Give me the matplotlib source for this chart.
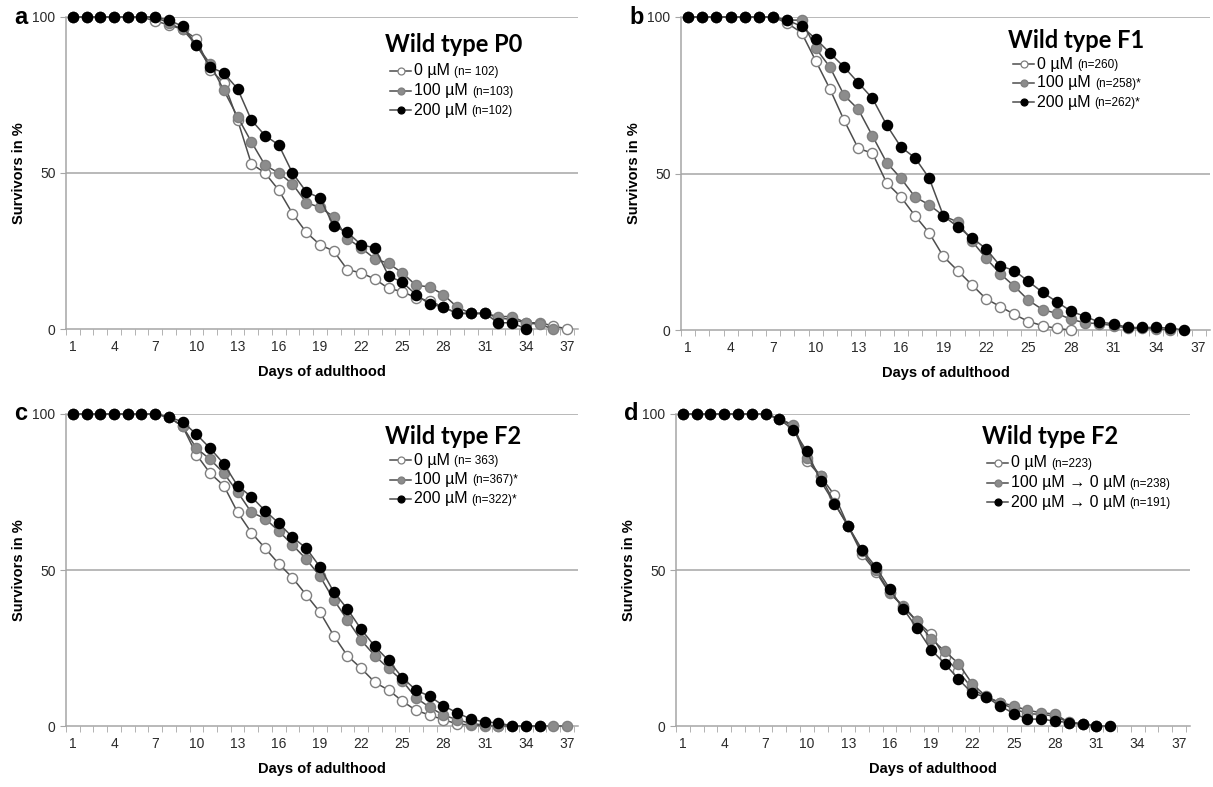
import matplotlib
matplotlib.use("Agg")
import matplotlib.pyplot as plt

W, H = 1213, 787

# survival (%) per day of adulthood, starting at day 1
p0_0 = [100, 100, 100, 100, 100, 100, 98.7, 97.5, 96, 93, 83, 79, 67, 53, 50, 44.5, 37, 31, 27, 25,
        19, 18, 16, 13, 12, 10, 9, 7, 5, 5, 5, 3.6, 3, 2, 2, 1, 0]
p0_100 = [100, 100, 100, 100, 100, 100, 100, 98, 96, 91, 85, 76.5, 68, 60, 52.5, 50, 46.5, 40.5, 39, 36,
          29, 26, 22.5, 21, 18, 14, 13.5, 11, 7, 5, 5, 4, 4, 2, 1.5, 0]
p0_200 = [100, 100, 100, 100, 100, 100, 100, 99, 97, 91, 84, 82, 77, 67, 62, 59, 50, 44, 42, 33,
          31, 27, 26, 17, 15, 11, 8, 7, 5, 5, 5, 2, 2, 0]

f1_0 = [100, 100, 100, 100, 100, 100, 100, 98, 95, 86, 77, 67, 58, 56.5, 47, 42.5, 36.5, 31, 23.5, 19,
        14.5, 10, 7.5, 5, 2.7, 1.4, 0.5, 0]
f1_100 = [100, 100, 100, 100, 100, 100, 100, 99, 99, 90, 84, 75, 70.5, 62, 53.5, 48.5, 42.5, 40, 36.5, 34.5,
          28.5, 23, 18, 14, 9.5, 6.5, 5.3, 3.4, 2.3, 2, 1.4, 0.6, 0.5, 0.4, 0]
f1_200 = [100, 100, 100, 100, 100, 100, 100, 99, 97, 93, 88.5, 84, 79, 74, 65.5, 58.5, 55, 48.5, 36.5, 33,
          29.5, 26, 20.5, 19, 15.5, 12, 9, 6, 4.3, 2.5, 2, 0.8, 0.8, 0.8, 0.6, 0]

f2_0 = [100, 100, 100, 100, 100, 100, 100, 99, 96, 87, 81, 77, 68.5, 62, 57, 52, 47.5, 42, 36.5, 29,
        22.5, 18.5, 14, 11.5, 8, 5, 3.5, 2, 0.7, 0.3, 0, 0]
f2_100 = [100, 100, 100, 100, 100, 100, 100, 99, 96, 89, 85.5, 81, 75, 68.5, 66.5, 62.5, 58, 53.5, 48, 40.5,
          34, 27.5, 22.5, 18.5, 14.5, 9, 6, 3.5, 2, 0.8, 0.3, 0, 0, 0, 0, 0, 0]
f2_200 = [100, 100, 100, 100, 100, 100, 100, 99, 97.5, 93.5, 89, 84, 77, 73.5, 69, 65, 60.5, 57, 51, 43,
          37.5, 31, 25.5, 21, 15.5, 11.5, 9.5, 6.5, 4.2, 2.2, 1.3, 1, 0, 0, 0]

r_0 = [100, 100, 100, 100, 100, 100, 100, 98.5, 96, 85, 80, 74, 64, 55, 49.5, 42.5, 38.5, 33.5, 29.5, 22,
       17.5, 12, 9.3, 7.5, 5.5, 4, 3.7, 3.2, 1.1, 0.6, 0]
r_100 = [100, 100, 100, 100, 100, 100, 100, 98.5, 96.5, 86, 80, 71.5, 64, 56, 50, 43, 38, 33.5, 28, 24,
         20, 13.5, 9.5, 7.5, 6.5, 5, 4.3, 3.8, 1.2, 0.8, 0]
r_200 = [100, 100, 100, 100, 100, 100, 100, 98.3, 95, 88, 78.5, 71.3, 64, 56.5, 51, 44, 37.5, 31.3, 24.5, 20,
         15, 10.5, 9.3, 6.5, 4, 2.2, 2.2, 1.6, 1.1, 0.5, 0, 0]

day_ticks = list(range(1, 38, 3))
y_ticks = [0, 50, 100]

panels = [
    dict(letter="a", title="Wild type P0", series=[p0_0, p0_100, p0_200],
         labels=["0 µM", "100 µM", "200 µM"], ns=["(n= 102)", "(n=103)", "(n=102)"],
         box=(66, 17, 578, 329), leg=(385, 44, 71, 19.5)),
    dict(letter="b", title="Wild type F1", series=[f1_0, f1_100, f1_200],
         labels=["0 µM", "100 µM", "200 µM"], ns=["(n=260)", "(n=258)*", "(n=262)*"],
         box=(681, 17, 1210, 330), leg=(1008, 40, 64, 19)),
    dict(letter="c", title="Wild type F2", series=[f2_0, f2_100, f2_200],
         labels=["0 µM", "100 µM", "200 µM"], ns=["(n= 363)", "(n=367)*", "(n=322)*"],
         box=(66, 414, 578, 726), leg=(385, 437, 460, 19.5)),
    dict(letter="d", title="Wild type F2", series=[r_0, r_100, r_200],
         labels=["0 µM", "100 µM \u2192 0 µM", "200 µM \u2192 0 µM"], ns=["(n=223)", "(n=238)", "(n=191)"],
         box=(676, 414, 1190, 726), leg=(982, 437, 463, 19.5)),
]

styles = [
    dict(mfc="white", mec="#7f7f7f"),
    dict(mfc="#8c8c8c", mec="#7f7f7f"),
    dict(mfc="black", mec="black"),
]
line_col = "#4d4d4d"
grid_col = "#a6a6a6"
sans = ["Liberation Sans", "DejaVu Sans"]

fig = plt.figure(figsize=(W / 100, H / 100), dpi=100)


def fx(x):
    return x / W


def fy(y):
    return 1 - y / H


for p in panels:
    x0, y0, x1, y1 = p["box"]
    ax = fig.add_axes([fx(x0), fy(y1), fx(x1 - x0), (y1 - y0) / H])
    for vals, st in zip(p["series"], styles):
        days = list(range(1, len(vals) + 1))
        ax.plot(days, vals, "-o", color=line_col, lw=1.1, ms=7.3, mew=1.0, clip_on=False, zorder=3, **st)
    ax.set_xlim(0.5, 37.8)
    ax.set_ylim(0, 100)
    for g in (50, 100):
        ax.axhline(g, color=grid_col, lw=1.1, zorder=1)
    for s in ("top", "right"):
        ax.spines[s].set_visible(False)
    for s in ("left", "bottom"):
        ax.spines[s].set_color(grid_col)
        ax.spines[s].set_linewidth(1.1)
    ax.set_xticks(day_ticks)
    ax.set_xticks([d + 0.5 for d in range(0, 38)], minor=True)
    ax.tick_params(axis="x", which="major", length=0, pad=8, labelsize=10, labelcolor="#2a2a2a")
    ax.tick_params(axis="x", which="minor", length=4, color=grid_col, direction="out")
    ax.set_yticks(y_ticks)
    ax.tick_params(axis="y", length=4, color=grid_col, labelsize=10, labelcolor="#2a2a2a")
    for t in ax.get_xticklabels() + ax.get_yticklabels():
        t.set_family(sans)
    ax.set_xlabel("Days of adulthood", fontsize=10.5, fontweight="bold", family=sans, labelpad=8)
    ax.set_ylabel("Survivors in %", fontsize=10.5, fontweight="bold", family=sans)
    ax.yaxis.set_label_coords(-40 / (x1 - x0), 0.5)

    fig.text(fx(x0 - 52), fy(y0), p["letter"], fontsize=17, fontweight="bold", family=sans,
             ha="left", va="center")

    lx, ty, ey, dy = p["leg"]
    fig.text(fx(lx), fy(ty), p["title"], fontsize=17, fontweight="bold", family="Lato",
             ha="left", va="center")
    for i, (lab, n, st) in enumerate(zip(p["labels"], p["ns"], styles)):
        yy = fy(ey + i * dy)
        fig.add_artist(plt.Line2D([fx(lx + 5), fx(lx + 26)], [yy, yy], color=line_col, lw=1.1,
                                  transform=fig.transFigure))
        fig.add_artist(plt.Line2D([fx(lx + 15.5)], [yy], marker="o", ms=5, mew=0.9, lw=0,
                                  transform=fig.transFigure, **st))
        t = fig.text(fx(lx + 29), yy, lab, fontsize=11.5, family=sans, ha="left", va="center")
        fig.canvas.draw()
        bb = t.get_window_extent()
        fig.text(bb.x1 / W + 4 / W, yy - 1 / H, n, fontsize=8.5, family=sans, ha="left", va="center")

fig.savefig("out.png", dpi=100)
